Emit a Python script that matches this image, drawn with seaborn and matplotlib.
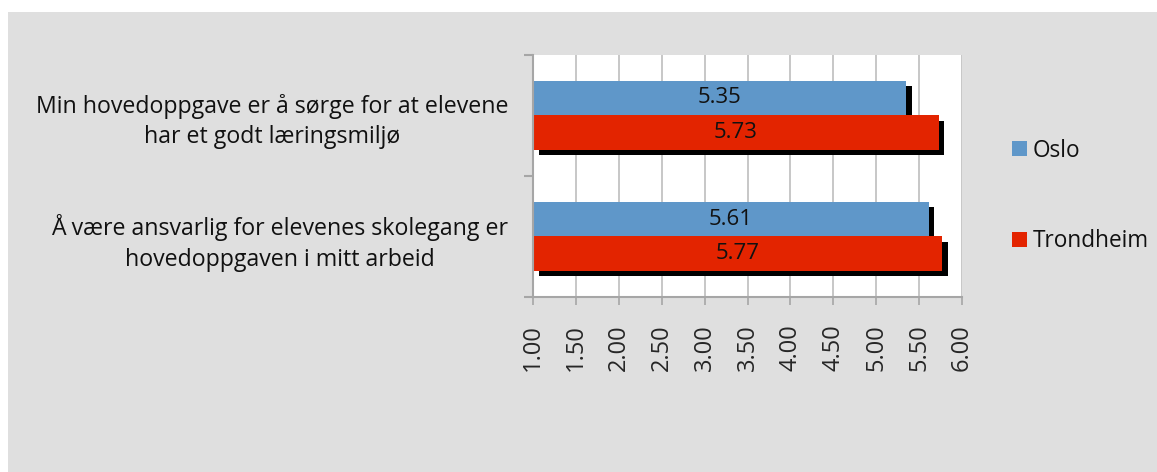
import matplotlib
matplotlib.use("Agg")
import matplotlib.pyplot as plt
import matplotlib.patheffects as pe
from matplotlib.patches import Rectangle
import numpy as np
import pandas as pd
import seaborn as sns

# Survey statements (mean agreement score per city)
statements = [
    "Min hovedoppgave er å sørge for at elevene\nhar et godt læringsmiljø",
    "Å være ansvarlig for elevenes skolegang er\nhovedoppgaven i mitt arbeid",
]
cities = ["Oslo", "Trondheim"]
oslo_scores = [5.35, 5.61]
trondheim_scores = [5.73, 5.77]
x_ticks = [1.00, 1.50, 2.00, 2.50, 3.00, 3.50, 4.00, 4.50, 5.00, 5.50, 6.00]

palette = {"Oslo": "#5f97c9", "Trondheim": "#e32400"}
bg_grey = "#dfdfdf"
axis_grey = "#a6a6a6"
grid_grey = "#bebebe"
axis_min = 1.0

df = pd.DataFrame({
    "statement": statements * 2,
    "city": [cities[0]] * len(statements) + [cities[1]] * len(statements),
    "score": oslo_scores + trondheim_scores,
})

sns.set_style("white")
plt.rcParams["font.family"] = ["Open Sans", "DejaVu Sans"]

fig = plt.figure(figsize=(11.57, 4.72), dpi=100)
fig.patch.set_facecolor("white")
fig.patches.append(Rectangle((8 / 1157, 0), 1.0, (472 - 12) / 472,
                             transform=fig.transFigure, facecolor=bg_grey,
                             edgecolor="none", zorder=-10))

ax = fig.add_axes([533 / 1157, 1 - 297 / 472, (962 - 533) / 1157, (297 - 54.5) / 472])
ax.set_facecolor("white")

sns.barplot(data=df, y="statement", x="score", hue="city", hue_order=cities,
            order=statements, orient="h", palette=palette, width=0.57,
            saturation=1.0, errorbar=None, legend=False, ax=ax)

# Bars start at the axis minimum rather than zero, with a drop shadow
shadow = [pe.SimplePatchShadow(offset=(4, -4), shadow_rgbFace="black", alpha=1.0),
          pe.Normal()]
for p in ax.patches:
    w = p.get_width()
    p.set_x(axis_min)
    p.set_width(w - axis_min)
    p.set_edgecolor("none")
    p.set_path_effects(shadow)

for container in ax.containers:
    ax.bar_label(container, labels=[f"{v:.2f}" for v in container.datavalues],
                 label_type="center", fontsize=16, color="#111111")

ax.set_xlim(1.0, 6.0)
ax.set_ylim(len(statements) - 0.5, -0.5)
ax.set_xticks(x_ticks)
ax.set_xticklabels([f"{t:.2f}" for t in x_ticks], rotation=90, fontsize=17)
ax.set_xlabel("")
ax.set_ylabel("")

ax.set_axisbelow(True)
ax.grid(axis="x", color=grid_grey, lw=1.2)
ax.grid(axis="y", visible=False)

for side in ("top", "right"):
    ax.spines[side].set_visible(False)
for side in ("left", "bottom"):
    ax.spines[side].set_color(axis_grey)
    ax.spines[side].set_linewidth(1.5)

ax.tick_params(axis="x", direction="out", length=5.8, width=1.2, color=axis_grey,
               pad=14, bottom=True)
ax.tick_params(axis="y", which="major", length=0, pad=18, left=True)
ax.set_yticks(np.arange(-0.5, len(statements), 1.0), minor=True)
ax.tick_params(axis="y", which="minor", direction="out", length=6.5, width=1.5,
               color=axis_grey, left=True)
for lbl in ax.get_yticklabels():
    lbl.set_fontsize(16.7)
    lbl.set_multialignment("center")
    lbl.set_linespacing(1.38)
    lbl.set_color("#111111")

handles = [Rectangle((0, 0), 1, 1, facecolor=palette[c], edgecolor="none") for c in cities]
fig.legend(handles, cities, loc="center left", bbox_to_anchor=(1012 / 1157, 1 - 196 / 472),
           frameon=False, fontsize=16.3, handlelength=0.65, handleheight=0.65,
           handletextpad=0.28, labelspacing=2.95, borderpad=0, borderaxespad=0,
           labelcolor="#111111")

fig.savefig("out.png", dpi=100, facecolor=fig.get_facecolor())
